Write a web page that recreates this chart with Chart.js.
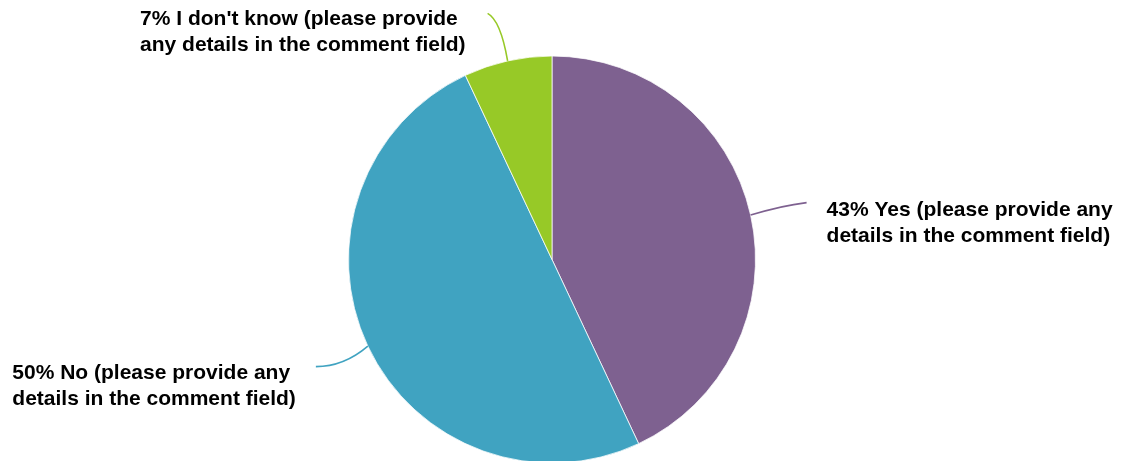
<!DOCTYPE html>
<html>
<head>
<meta charset="utf-8">
<title>Survey answers</title>
<script src="https://cdn.jsdelivr.net/npm/chart.js@4/dist/chart.umd.min.js"></script>
<style>
    html, body { margin: 0; padding: 0; background: #fff; overflow: hidden; }
    #wrap { width: 1123px; height: 461px; position: relative; }
</style>
</head>
<body>
<div id="wrap"><canvas id="pieChart"></canvas></div>
<script>
const categories = [
    'Yes (please provide any details in the comment field)',
    'No (please provide any details in the comment field)',
    "I don't know (please provide any details in the comment field)"
];
const answers = [43, 50, 7];
const sliceColors = ['#7e6190', '#40a3c1', '#97c927'];

const total = answers.reduce((s, v) => s + v, 0);

// callout placement per slice: leader end + curve control (relative to the
// arc's outer midpoint), which side the text sits on, and baseline shift
const callouts = [
    { end: [56, -12.5], ctrl: [31, -9.5], side: 'right', gap: 20, dy: 13.5 },
    { end: [-52, 20.5], ctrl: [-24, 20.5], side: 'left', gap: 20, dy: 12 },
    { end: [-20, -47.5], ctrl: [-7, -40.5], side: 'left', gap: 22, dy: 12 }
];

const LABEL_FONT = 'bold 21px "Liberation Sans", Arial, sans-serif';
const LINE_HEIGHT = 26;
const WRAP_WIDTH = 340;

function wrapText(ctx, text, maxWidth) {
    const words = text.split(' ');
    const lines = [];
    let line = '';
    words.forEach(w => {
        const test = line ? line + ' ' + w : w;
        if (line && ctx.measureText(test).width > maxWidth) {
            lines.push(line);
            line = w;
        } else {
            line = test;
        }
    });
    if (line) lines.push(line);
    return lines;
}

const calloutPlugin = {
    id: 'callouts',
    afterDatasetsDraw(chart) {
        const ctx = chart.ctx;
        const arcs = chart.getDatasetMeta(0).data;
        ctx.save();
        ctx.font = LABEL_FONT;
        arcs.forEach((arc, i) => {
            const c = callouts[i];
            const p = arc.getProps(['x', 'y', 'startAngle', 'endAngle', 'outerRadius'], true);
            const mid = (p.startAngle + p.endAngle) / 2;
            const sx = p.x + Math.cos(mid) * p.outerRadius;
            const sy = p.y + Math.sin(mid) * p.outerRadius;
            const ex = sx + c.end[0];
            const ey = sy + c.end[1];

            // leader line
            ctx.beginPath();
            ctx.moveTo(sx, sy);
            ctx.quadraticCurveTo(sx + c.ctrl[0], sy + c.ctrl[1], ex, ey);
            ctx.strokeStyle = sliceColors[i];
            ctx.lineWidth = 1.6;
            ctx.stroke();

            // label text
            const pct = Math.round(answers[i] / total * 100);
            const lines = wrapText(ctx, pct + '% ' + categories[i], WRAP_WIDTH);
            const blockW = Math.max(...lines.map(l => ctx.measureText(l).width));
            const left = c.side === 'right' ? ex + c.gap : ex - c.gap - blockW;
            ctx.fillStyle = '#000';
            ctx.textAlign = 'left';
            ctx.textBaseline = 'alphabetic';
            lines.forEach((l, k) => {
                ctx.fillText(l, left, ey + c.dy + k * LINE_HEIGHT);
            });
        });
        ctx.restore();
    }
};

new Chart(document.getElementById('pieChart'), {
    type: 'pie',
    data: {
        labels: categories,
        datasets: [{
            data: answers,
            backgroundColor: sliceColors,
            borderColor: '#ffffff',
            borderWidth: 0.75,
            radius: 203.5
        }]
    },
    options: {
        responsive: true,
        maintainAspectRatio: false,
        animation: false,
        layout: { padding: { top: 58, right: 19, left: 0, bottom: 0 } },
        plugins: {
            legend: { display: false },
            tooltip: { enabled: false }
        }
    },
    plugins: [calloutPlugin]
});
</script>
</body>
</html>
